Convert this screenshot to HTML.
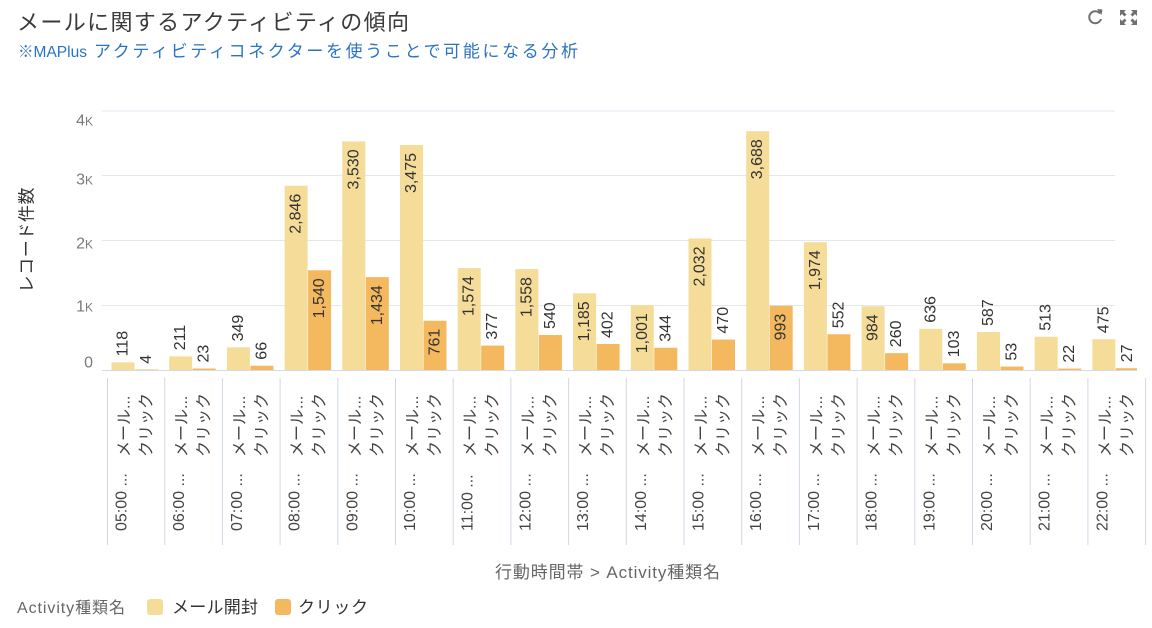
<!DOCTYPE html>
<html>
<head>
<meta charset="utf-8">
<style>
  html, body { margin:0; padding:0; background:#ffffff; }
  body { width:1152px; height:628px; overflow:hidden; }
  svg { display:block; font-family:"Liberation Sans","Noto Sans CJK JP",sans-serif; }
  .v { font-size:16px; fill:#333333; }
  .xl { font-size:16px; fill:#444444; }
</style>
</head>
<body>
<svg width="1152" height="628" viewBox="0 0 1152 628" xmlns="http://www.w3.org/2000/svg">
  <!-- Title -->
  <text x="17" y="30" font-size="22" fill="#3a3a3a" textLength="392" lengthAdjust="spacing">メールに関するアクティビティの傾向</text>
  <text x="18" y="57" font-size="16" fill="#2b73c2" textLength="69" lengthAdjust="spacingAndGlyphs">※MAPlus</text>
  <text x="94" y="57" font-size="17" fill="#2b73c2" textLength="484" lengthAdjust="spacing">アクティビティコネクターを使うことで可能になる分析</text>

  <!-- top-right icons -->
  <g stroke="#707070" stroke-width="2" fill="none">
    <path d="M1100 13.5 A6 6 0 1 0 1101 19"/>
  </g>
  <path d="M1097 9 L1102.5 9.5 L1101.5 15 Z" fill="#707070"/>
  <g fill="#707070">
    <path d="M1120 10 L1126 10 L1124 12 L1126.5 14.5 L1124.5 16.5 L1122 14 L1120 16 Z"/>
    <path d="M1137 10 L1131 10 L1133 12 L1130.5 14.5 L1132.5 16.5 L1135 14 L1137 16 Z"/>
    <path d="M1120 25 L1126 25 L1124 23 L1126.5 20.5 L1124.5 18.5 L1122 21 L1120 19 Z"/>
    <path d="M1137 25 L1131 25 L1133 23 L1130.5 20.5 L1132.5 18.5 L1135 21 L1137 19 Z"/>
  </g>

  <!-- gridlines -->
  <g stroke="#e2e8f0" stroke-width="1">
    <line x1="102" y1="111" x2="1115" y2="111"/>
    <line x1="102" y1="175.5" x2="1115" y2="175.5"/>
    <line x1="102" y1="240.5" x2="1115" y2="240.5"/>
    <line x1="102" y1="305.5" x2="1115" y2="305.5"/>
  </g>

  <!-- y ticks -->
  <g fill="#7a7a7a" font-size="16" text-anchor="end">
    <text x="93" y="125.7">4<tspan font-size="12">K</tspan></text>
    <text x="93" y="184.7">3<tspan font-size="12">K</tspan></text>
    <text x="93" y="248.7">2<tspan font-size="12">K</tspan></text>
    <text x="93" y="311.7">1<tspan font-size="12">K</tspan></text>
    <text x="93" y="367.7">0</text>
  </g>

  <!-- y axis title -->
  <text transform="translate(27,240) rotate(-90)" text-anchor="middle" dominant-baseline="central" font-size="17" fill="#333" textLength="105" lengthAdjust="spacing">レコード件数</text>

  <!-- bars: mail -->
  <g fill="#f5dc98">
    <rect x="111.5" y="362.36" width="23" height="7.64"/>
    <rect x="169.2" y="356.34" width="23" height="13.66"/>
    <rect x="226.9" y="347.40" width="23" height="22.60"/>
    <rect x="284.6" y="185.72" width="23" height="184.28"/>
    <rect x="342.3" y="141.43" width="23" height="228.57"/>
    <rect x="400.0" y="144.99" width="23" height="225.01"/>
    <rect x="457.7" y="268.08" width="23" height="101.92"/>
    <rect x="515.4" y="269.12" width="23" height="100.88"/>
    <rect x="573.1" y="293.27" width="23" height="76.73"/>
    <rect x="630.8" y="305.19" width="23" height="64.81"/>
    <rect x="688.5" y="238.43" width="23" height="131.57"/>
    <rect x="746.2" y="131.20" width="23" height="238.80"/>
    <rect x="803.9" y="242.18" width="23" height="127.82"/>
    <rect x="861.6" y="306.29" width="23" height="63.71"/>
    <rect x="919.3" y="328.82" width="23" height="41.18"/>
    <rect x="977.0" y="331.99" width="23" height="38.01"/>
    <rect x="1034.7" y="336.78" width="23" height="33.22"/>
    <rect x="1092.4" y="339.24" width="23" height="30.76"/>
  </g>
  <!-- bars: click -->
  <g fill="#f4b85e">
    <rect x="135.0" y="369.5" width="23" height="0.5"/>
    <rect x="192.7" y="368.51" width="23" height="1.49"/>
    <rect x="250.4" y="365.73" width="23" height="4.27"/>
    <rect x="308.1" y="270.28" width="23" height="99.72"/>
    <rect x="365.8" y="277.15" width="23" height="92.85"/>
    <rect x="423.5" y="320.73" width="23" height="49.27"/>
    <rect x="481.2" y="345.59" width="23" height="24.41"/>
    <rect x="538.9" y="335.03" width="23" height="34.97"/>
    <rect x="596.6" y="343.97" width="23" height="26.03"/>
    <rect x="654.3" y="347.73" width="23" height="22.27"/>
    <rect x="712.0" y="339.57" width="23" height="30.43"/>
    <rect x="769.7" y="305.70" width="23" height="64.30"/>
    <rect x="827.4" y="334.26" width="23" height="35.74"/>
    <rect x="885.1" y="353.16" width="23" height="16.84"/>
    <rect x="942.8" y="363.33" width="23" height="6.67"/>
    <rect x="1000.5" y="366.57" width="23" height="3.43"/>
    <rect x="1058.2" y="368.58" width="23" height="1.42"/>
    <rect x="1115.9" y="368.25" width="21.1" height="1.75"/>
  </g>

  <!-- baseline -->
  <line x1="102" y1="370.5" x2="1137" y2="370.5" stroke="#d3dbe6" stroke-width="1"/>

  <!-- value labels outside (anchor start, reading upward) -->
  <g class="v" dominant-baseline="central" text-anchor="start">
    <text transform="translate(123,356.4) rotate(-90)">118</text>
    <text transform="translate(146.5,363.7) rotate(-90)">4</text>
    <text transform="translate(180.7,350.3) rotate(-90)">211</text>
    <text transform="translate(204.2,362.5) rotate(-90)">23</text>
    <text transform="translate(238.4,341.4) rotate(-90)">349</text>
    <text transform="translate(261.9,359.7) rotate(-90)">66</text>
    <text transform="translate(492.7,339.6) rotate(-90)">377</text>
    <text transform="translate(550.4,329.0) rotate(-90)">540</text>
    <text transform="translate(608.1,338.0) rotate(-90)">402</text>
    <text transform="translate(665.8,341.7) rotate(-90)">344</text>
    <text transform="translate(723.5,333.6) rotate(-90)">470</text>
    <text transform="translate(838.9,328.3) rotate(-90)">552</text>
    <text transform="translate(896.6,347.2) rotate(-90)">260</text>
    <text transform="translate(930.8,322.8) rotate(-90)">636</text>
    <text transform="translate(954.3,357.3) rotate(-90)">103</text>
    <text transform="translate(988.5,326.0) rotate(-90)">587</text>
    <text transform="translate(1012,360.6) rotate(-90)">53</text>
    <text transform="translate(1046.2,330.8) rotate(-90)">513</text>
    <text transform="translate(1069.7,362.6) rotate(-90)">22</text>
    <text transform="translate(1103.9,333.2) rotate(-90)">475</text>
    <text transform="translate(1127.4,362.3) rotate(-90)">27</text>
  </g>
  <!-- value labels inside (anchor end near top of bar) -->
  <g class="v" dominant-baseline="central" text-anchor="end">
    <text transform="translate(296.1,193.7) rotate(-90)">2,846</text>
    <text transform="translate(319.6,278.3) rotate(-90)">1,540</text>
    <text transform="translate(353.8,149.4) rotate(-90)">3,530</text>
    <text transform="translate(377.3,285.2) rotate(-90)">1,434</text>
    <text transform="translate(411.5,153.0) rotate(-90)">3,475</text>
    <text transform="translate(435,328.7) rotate(-90)">761</text>
    <text transform="translate(469.2,276.1) rotate(-90)">1,574</text>
    <text transform="translate(526.9,277.1) rotate(-90)">1,558</text>
    <text transform="translate(584.6,301.3) rotate(-90)">1,185</text>
    <text transform="translate(642.3,313.2) rotate(-90)">1,001</text>
    <text transform="translate(700,246.4) rotate(-90)">2,032</text>
    <text transform="translate(757.7,139.2) rotate(-90)">3,688</text>
    <text transform="translate(781.2,313.7) rotate(-90)">993</text>
    <text transform="translate(815.4,250.2) rotate(-90)">1,974</text>
    <text transform="translate(873.1,314.3) rotate(-90)">984</text>
  </g>

  <!-- group separators -->
  <g stroke="#cfd9e5" stroke-width="1">
    <line x1="107.5" y1="378" x2="107.5" y2="545"/>
    <line x1="164.7" y1="378" x2="164.7" y2="545"/>
    <line x1="222.4" y1="378" x2="222.4" y2="545"/>
    <line x1="280.1" y1="378" x2="280.1" y2="545"/>
    <line x1="337.8" y1="378" x2="337.8" y2="545"/>
    <line x1="395.5" y1="378" x2="395.5" y2="545"/>
    <line x1="453.2" y1="378" x2="453.2" y2="545"/>
    <line x1="510.9" y1="378" x2="510.9" y2="545"/>
    <line x1="568.6" y1="378" x2="568.6" y2="545"/>
    <line x1="626.3" y1="378" x2="626.3" y2="545"/>
    <line x1="684.0" y1="378" x2="684.0" y2="545"/>
    <line x1="741.7" y1="378" x2="741.7" y2="545"/>
    <line x1="799.4" y1="378" x2="799.4" y2="545"/>
    <line x1="857.1" y1="378" x2="857.1" y2="545"/>
    <line x1="914.8" y1="378" x2="914.8" y2="545"/>
    <line x1="972.5" y1="378" x2="972.5" y2="545"/>
    <line x1="1030.2" y1="378" x2="1030.2" y2="545"/>
    <line x1="1087.9" y1="378" x2="1087.9" y2="545"/>
    <line x1="1145.6" y1="378" x2="1145.6" y2="545"/>
  </g>

  <!-- x sub labels -->
  <g class="xl" dominant-baseline="central" text-anchor="start">
    <text transform="translate(125,457) rotate(-90)">メール...</text>
    <text transform="translate(147,457) rotate(-90)">クリック</text>
    <text transform="translate(182.7,457) rotate(-90)">メール...</text>
    <text transform="translate(204.7,457) rotate(-90)">クリック</text>
    <text transform="translate(240.4,457) rotate(-90)">メール...</text>
    <text transform="translate(262.4,457) rotate(-90)">クリック</text>
    <text transform="translate(298.1,457) rotate(-90)">メール...</text>
    <text transform="translate(320.1,457) rotate(-90)">クリック</text>
    <text transform="translate(355.8,457) rotate(-90)">メール...</text>
    <text transform="translate(377.8,457) rotate(-90)">クリック</text>
    <text transform="translate(413.5,457) rotate(-90)">メール...</text>
    <text transform="translate(435.5,457) rotate(-90)">クリック</text>
    <text transform="translate(471.2,457) rotate(-90)">メール...</text>
    <text transform="translate(493.2,457) rotate(-90)">クリック</text>
    <text transform="translate(528.9,457) rotate(-90)">メール...</text>
    <text transform="translate(550.9,457) rotate(-90)">クリック</text>
    <text transform="translate(586.6,457) rotate(-90)">メール...</text>
    <text transform="translate(608.6,457) rotate(-90)">クリック</text>
    <text transform="translate(644.3,457) rotate(-90)">メール...</text>
    <text transform="translate(666.3,457) rotate(-90)">クリック</text>
    <text transform="translate(702,457) rotate(-90)">メール...</text>
    <text transform="translate(724,457) rotate(-90)">クリック</text>
    <text transform="translate(759.7,457) rotate(-90)">メール...</text>
    <text transform="translate(781.7,457) rotate(-90)">クリック</text>
    <text transform="translate(817.4,457) rotate(-90)">メール...</text>
    <text transform="translate(839.4,457) rotate(-90)">クリック</text>
    <text transform="translate(875.1,457) rotate(-90)">メール...</text>
    <text transform="translate(897.1,457) rotate(-90)">クリック</text>
    <text transform="translate(932.8,457) rotate(-90)">メール...</text>
    <text transform="translate(954.8,457) rotate(-90)">クリック</text>
    <text transform="translate(990.5,457) rotate(-90)">メール...</text>
    <text transform="translate(1012.5,457) rotate(-90)">クリック</text>
    <text transform="translate(1048.2,457) rotate(-90)">メール...</text>
    <text transform="translate(1070.2,457) rotate(-90)">クリック</text>
    <text transform="translate(1105.9,457) rotate(-90)">メール...</text>
    <text transform="translate(1127.9,457) rotate(-90)">クリック</text>
  </g>

  <!-- x group labels -->
  <g class="xl" dominant-baseline="central" text-anchor="start">
    <text transform="translate(122,531) rotate(-90)">05:00 ...</text>
    <text transform="translate(179.7,531) rotate(-90)">06:00 ...</text>
    <text transform="translate(237.4,531) rotate(-90)">07:00 ...</text>
    <text transform="translate(295.1,531) rotate(-90)">08:00 ...</text>
    <text transform="translate(352.8,531) rotate(-90)">09:00 ...</text>
    <text transform="translate(410.5,531) rotate(-90)">10:00 ...</text>
    <text transform="translate(468.2,531) rotate(-90)">11:00 ...</text>
    <text transform="translate(525.9,531) rotate(-90)">12:00 ...</text>
    <text transform="translate(583.6,531) rotate(-90)">13:00 ...</text>
    <text transform="translate(641.3,531) rotate(-90)">14:00 ...</text>
    <text transform="translate(699,531) rotate(-90)">15:00 ...</text>
    <text transform="translate(756.7,531) rotate(-90)">16:00 ...</text>
    <text transform="translate(814.4,531) rotate(-90)">17:00 ...</text>
    <text transform="translate(872.1,531) rotate(-90)">18:00 ...</text>
    <text transform="translate(929.8,531) rotate(-90)">19:00 ...</text>
    <text transform="translate(987.5,531) rotate(-90)">20:00 ...</text>
    <text transform="translate(1045.2,531) rotate(-90)">21:00 ...</text>
    <text transform="translate(1102.9,531) rotate(-90)">22:00 ...</text>
  </g>

  <!-- x axis title -->
  <text x="495" y="578" font-size="17" fill="#666" textLength="225" lengthAdjust="spacing">行動時間帯 &gt; Activity種類名</text>

  <!-- legend -->
  <text x="17" y="613" font-size="16" fill="#666" textLength="108" lengthAdjust="spacing">Activity種類名</text>
  <rect x="147" y="599" width="16" height="16" rx="3" fill="#f5dc98"/>
  <text x="172" y="613" font-size="17" fill="#333" textLength="86" lengthAdjust="spacing">メール開封</text>
  <rect x="275" y="599" width="16" height="16" rx="3" fill="#f4b85e"/>
  <text x="298" y="613" font-size="17" fill="#333" textLength="70" lengthAdjust="spacing">クリック</text>
</svg>
</body>
</html>
